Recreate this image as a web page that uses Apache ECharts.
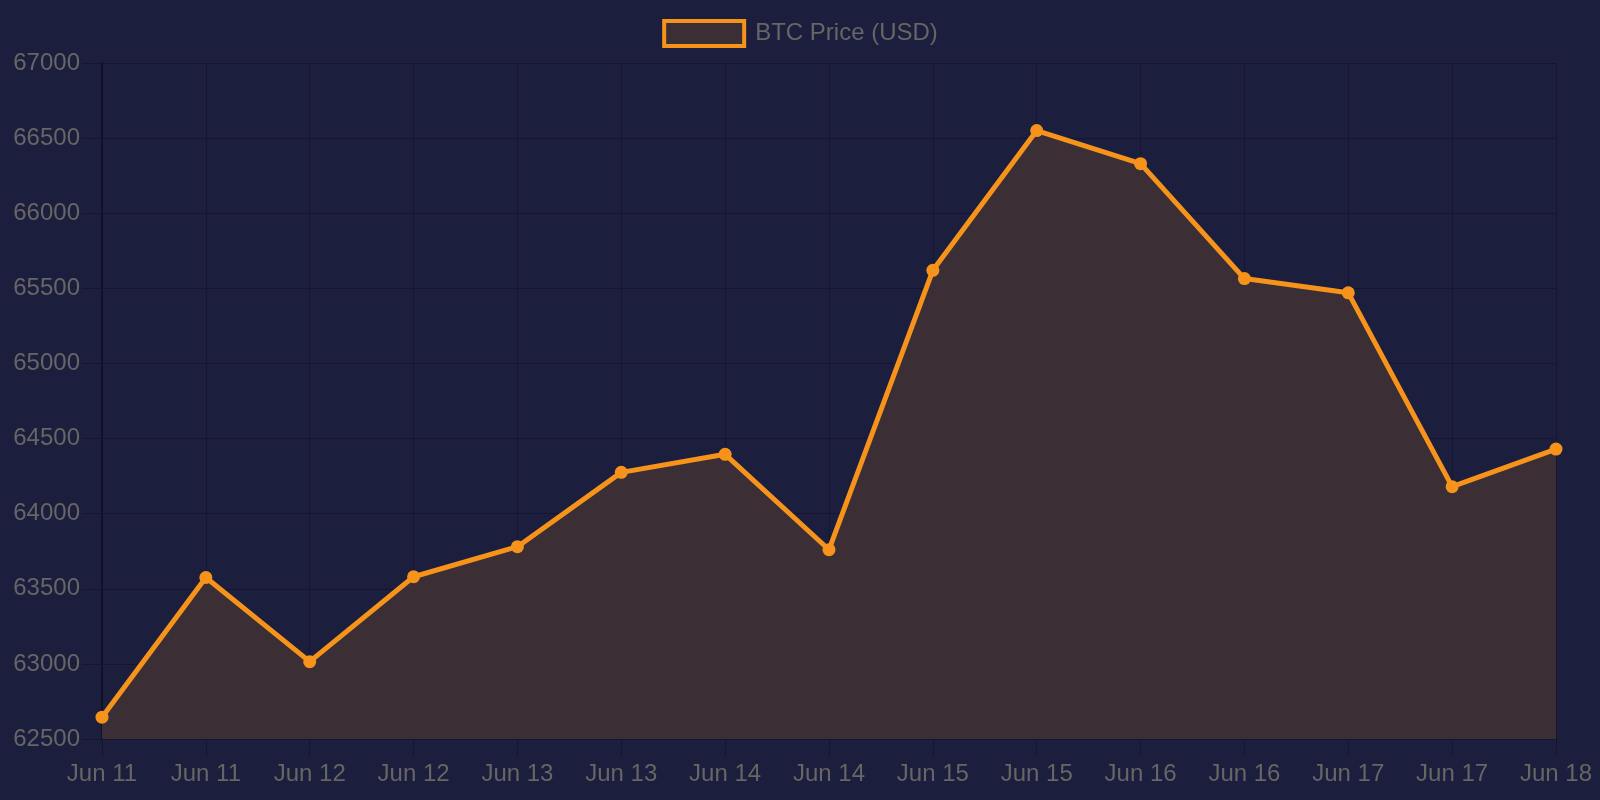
<!DOCTYPE html>
<html>
<head>
<meta charset="utf-8">
<script src="https://cdn.jsdelivr.net/npm/echarts@6/dist/echarts.min.js"></script>
<style>
html,body{margin:0;padding:0;background:#1b1e3c;}
#c{width:1600px;height:800px;}
</style>
</head>
<body>
<div id="c"></div>
<script>
const categories = ['Jun 11','Jun 11','Jun 12','Jun 12','Jun 13','Jun 13','Jun 14','Jun 14','Jun 15','Jun 15','Jun 16','Jun 16','Jun 17','Jun 17','Jun 18'];
const prices = [62645, 63575, 63015, 63580, 63780, 64275, 64395, 63760, 65620, 66550, 66330, 65565, 65470, 64180, 64430];
const seriesName = 'BTC Price (USD)';

const chart = echarts.init(document.getElementById('c'));
const font = 'Liberation Sans, Arial, Helvetica, sans-serif';
chart.setOption({
  backgroundColor: '#1b1e3c',
  animation: false,
  legend: {
    top: 14,
    left: 'center',
    itemWidth: 80,
    itemHeight: 25,
    itemGap: 10,
    icon: 'rect',
    itemStyle: { color: '#3b2e35', borderColor: '#f7931a', borderWidth: 4 },
    textStyle: { color: '#666666', fontSize: 24, fontFamily: font, padding: [0, 0, 0, 6] },
    data: [seriesName]
  },
  grid: { left: 102, right: 44, top: 63, bottom: 61, containLabel: false },
  xAxis: {
    type: 'category',
    data: categories,
    boundaryGap: false,
    axisLine: { show: false },
    axisTick: { show: true, interval: 0, length: 18, lineStyle: { color: '#13162e', width: 1 } },
    axisLabel: { interval: 0, color: '#666666', fontSize: 24, fontFamily: font, margin: 23 },
    splitLine: { show: true, interval: 0, lineStyle: { color: '#13162e', width: 1 } }
  },
  yAxis: {
    type: 'value',
    min: 62500,
    max: 67000,
    interval: 500,
    axisLine: { show: true, lineStyle: { color: '#0e1126', width: 2 } },
    axisTick: { show: true, length: 20, lineStyle: { color: '#13162e' } },
    axisLabel: { color: '#666666', fontSize: 24, fontFamily: font, margin: 22, formatter: v => String(v) },
    splitLine: { show: true, lineStyle: { color: '#13162e', width: 1 } }
  },
  series: [{
    name: seriesName,
    type: 'line',
    data: prices,
    symbol: 'circle',
    symbolSize: 13,
    lineStyle: { color: '#f7931a', width: 5 },
    itemStyle: { color: '#f7931a' },
    areaStyle: { color: '#3b2e35', opacity: 1, origin: 'start' }
  }]
});
</script>
</body>
</html>
